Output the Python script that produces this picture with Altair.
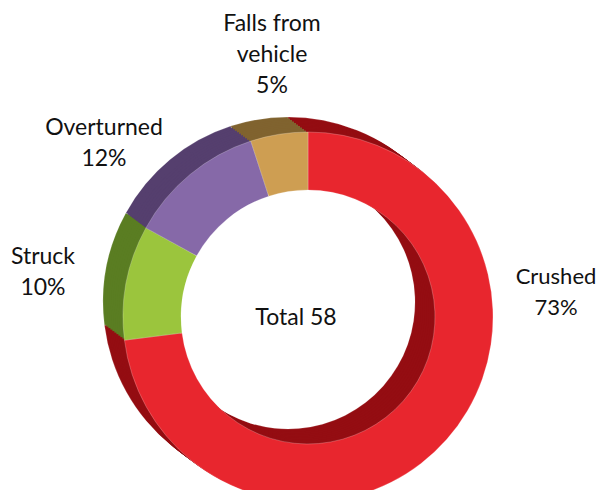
import altair as alt
import pandas as pd

categories = ["Crushed", "Struck", "Overturned", "Falls from vehicle"]
label_text = ["Crushed\n73%", "Struck\n10%", "Overturned\n12%", "Falls from\nvehicle\n5%"]
percents = [73, 10, 12, 5]
order_idx = [0, 1, 2, 3]
top_colors = ["#E8262E", "#9BC53D", "#8669A8", "#CE9E52"]
side_colors = ["#940D12", "#5A7D22", "#553F6E", "#80632F"]
total_label = "Total 58"

df = pd.DataFrame({
    "category": categories,
    "label": label_text,
    "pct": percents,
    "idx": order_idx,
    "top": top_colors,
    "side": side_colors,
})

W, H = 590, 482
CX, CY = 300, 309
R_OUT, R_IN = 185, 127
DX, DY = -20, -15
FONT = "Lato"
FS = 23

base = alt.Chart(df)

def ring(cx, cy, color_field, stroke_opacity):
    return base.mark_arc(
        outerRadius=R_OUT, innerRadius=R_IN,
        stroke="#ffffff", strokeWidth=0.5, strokeOpacity=stroke_opacity,
    ).encode(
        theta=alt.Theta("pct:Q", stack=True),
        order=alt.Order("idx:Q"),
        color=alt.Color(f"{color_field}:N", scale=None),
        x=alt.value(cx), y=alt.value(cy),
    )

steps = [1.0, 0.9, 0.8, 0.7, 0.6, 0.5, 0.4, 0.3, 0.2, 0.1]
layers = [ring(CX + DX * s, CY + DY * s, "side", 0.35 if s == 1.0 else 0.0) for s in steps]
layers.append(ring(CX, CY, "top", 0.45))

label_pos = {
    "Crushed": (548, 269, 22),
    "Struck": (35, 249, FS),
    "Overturned": (96, 120, FS),
    "Falls from vehicle": (264, 16, FS),
}
for cat, (lx, ly, fs) in label_pos.items():
    layers.append(
        base.transform_filter(alt.datum.category == cat).mark_text(
            font=FONT, fontSize=fs, lineBreak="\n", lineHeight=31,
            align="center", baseline="middle", color="#111111",
        ).encode(text="label:N", x=alt.value(lx), y=alt.value(ly))
    )

layers.append(
    alt.Chart(pd.DataFrame({"t": [total_label]})).mark_text(
        font=FONT, fontSize=FS, align="center", baseline="middle", color="#111111",
    ).encode(text="t:N", x=alt.value(288), y=alt.value(310))
)

chart = alt.layer(*layers).properties(
    width=W, height=H, padding=0, autosize="none",
).configure_view(stroke=None)

chart.save("out.html", embed_options={"renderer": "svg", "actions": False})
